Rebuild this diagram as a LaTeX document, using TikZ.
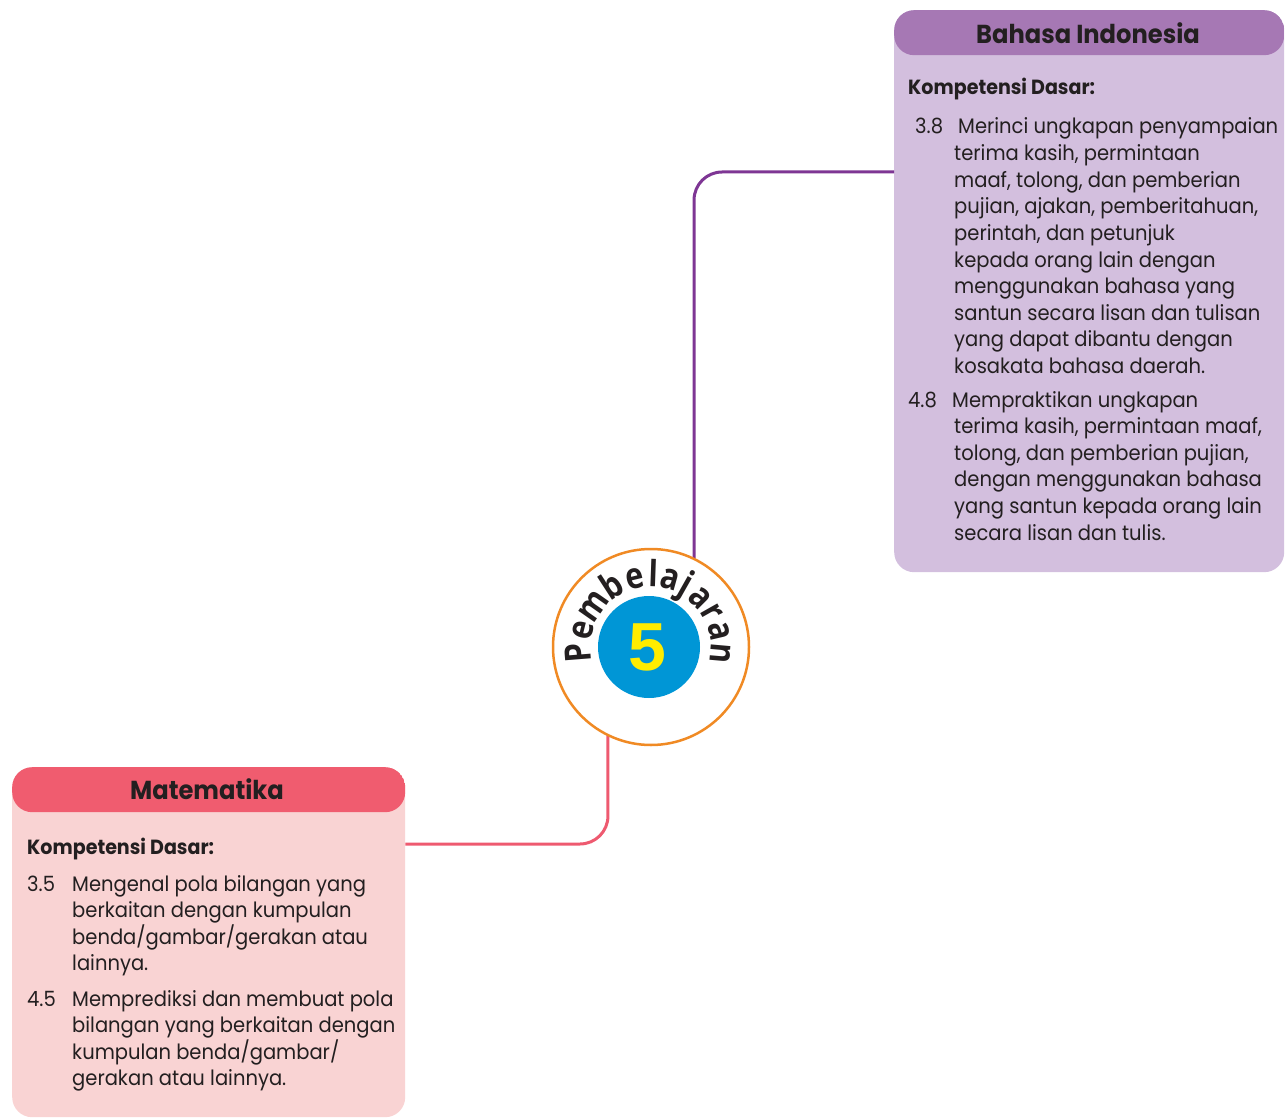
\documentclass[tikz,border=0pt]{standalone}
\usepackage{fontspec}
\setmainfont{Poppins}[FakeStretch=0.93]
\newfontfamily\circfont{Open Sans}[FakeStretch=0.85]
\newfontfamily\numfont{Liberation Sans}
\definecolor{txt}{HTML}{231F20}
\definecolor{bihead}{HTML}{A678B4}
\definecolor{bibody}{HTML}{D3BFDE}
\definecolor{biline}{HTML}{7E3694}
\definecolor{mahead}{HTML}{F05C6F}
\definecolor{mabody}{HTML}{F9D3D3}
\definecolor{maline}{HTML}{EE5A70}
\definecolor{orng}{HTML}{F08A24}
\definecolor{blu}{HTML}{0096D6}
\definecolor{yel}{HTML}{FFEC00}
\tikzset{
  body/.style={font=\fontsize{21}{26}\selectfont, text=txt, inner sep=0pt},
  kd/.style={font=\bfseries\fontsize{20.5}{24}\selectfont, text=txt, inner sep=0pt, anchor=base west},
  hdr/.style={font=\bfseries\fontsize{26}{30}\selectfont, text=txt, inner sep=0pt, anchor=base},
  arcletter/.style={font=\circfont\bfseries\fontsize{36}{36}\selectfont, text=txt, inner sep=0pt, anchor=base},
  panel/.style={rectangle, rounded corners=20pt, anchor=north west, inner sep=0pt, fill=#1body,
    path picture={\fill[#1head] (path picture bounding box.north west) rectangle ([yshift=-45pt]path picture bounding box.north east);}},
  conn/.style={line width=3pt, rounded corners=28pt, draw=#1}
}
\newcommand\bodylines[4]{%
  \foreach \t [count=\i from 0] in {#4} {%
    \node[body, anchor=base west] (#3-\i) at (#1, {#2+26.6*\i}) {\t};}}
\begin{document}
\begin{tikzpicture}[x=1pt,y=-1pt]
\useasboundingbox (0,0) rectangle (1285,1118);
% panels
\node[panel=bi, minimum width=390pt, minimum height=562pt] (bi) at (894,10) {};
\node[panel=ma, minimum width=393pt, minimum height=350pt] (ma) at (12,767) {};
% centre circle
\node[circle, minimum size=196pt, inner sep=0pt] (c) at (651,647) {};
% connectors
\draw[conn=biline] (c.64) |- (bi.west |- 0,172);
\draw[conn=maline] (c.-116) |- (ma.east |- 0,844);
\node[circle, draw=orng, line width=2.5pt, fill=white, minimum size=196pt, inner sep=0pt] (ring) at (651,647) {};
\node[circle, fill=blu, minimum size=102pt, inner sep=0pt] (blue) at (649,647) {};
\node[font=\numfont\bfseries\fontsize{68}{68}\selectfont, text=yel, inner sep=0pt] (five) at (647,647) {5};
\begin{scope}[shift={(c.center)}, y=1pt]
\foreach \ch/\ang [count=\i] in {P/184.5, e/166, m/145, b/123, e/103.5, l/88, a/74.5, j/60.5, a/45, r/29.5, a/13, n/-5}
  \node[arcletter, rotate=\ang-90] (pl\i) at (\ang:60) {\ch};
\end{scope}
% headers
\node[hdr] (bih) at (1088,44) {Bahasa Indonesia};
\node[hdr] (mah) at (207,799) {Matematika};
% Bahasa Indonesia text
\node[kd] (bikd) at (908,95) {Kompetensi Dasar:};
\node[body, anchor=base west] (bin1) at (915,134) {3.8};
\node[body, anchor=base west] (bit1) at (958,134) {Merinci ungkapan penyampaian};
\bodylines{954}{160.6}{bia}{{terima kasih, permintaan},{maaf, tolong, dan pemberian},{pujian, ajakan, pemberitahuan,},{perintah, dan petunjuk},{kepada orang lain dengan},{menggunakan bahasa yang},{santun secara lisan dan tulisan},{yang dapat dibantu dengan},{kosakata bahasa daerah.}}
\node[body, anchor=base west] (bin2) at (908,407) {4.8};
\node[body, anchor=base west] (bit2) at (952,407) {Mempraktikan ungkapan};
\bodylines{954}{433.6}{bib}{{terima kasih, permintaan maaf,},{tolong, dan pemberian pujian,},{dengan menggunakan bahasa},{yang santun kepada orang lain},{secara lisan dan tulis.}}
% Matematika text
\node[kd] (makd) at (27,854) {Kompetensi Dasar:};
\node[body, anchor=base west] (man1) at (27,891) {3.5};
\node[body, anchor=base west] (mat1) at (72,891) {Mengenal pola bilangan yang};
\bodylines{72}{917.6}{maa}{{berkaitan dengan kumpulan},{benda/gambar/gerakan atau},{lainnya.}}
\node[body, anchor=base west] (man2) at (27,1006) {4.5};
\node[body, anchor=base west] (mat2) at (72,1006) {Memprediksi dan membuat pola};
\bodylines{72}{1032.6}{mab}{{bilangan yang berkaitan dengan},{kumpulan benda/gambar/},{gerakan atau lainnya.}}
\end{tikzpicture}
\end{document}
